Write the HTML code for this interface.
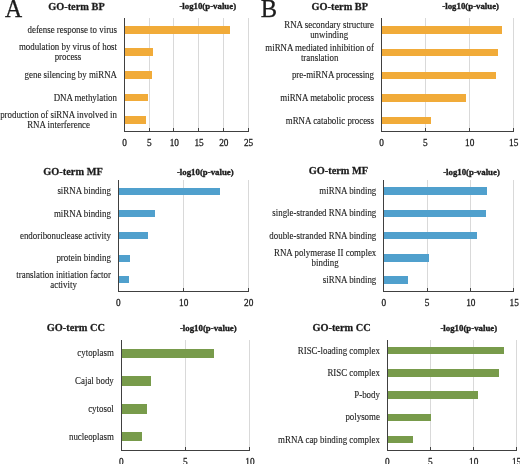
<!DOCTYPE html>
<html><head><meta charset="utf-8"><title>GO-term enrichment</title><style>
html,body{margin:0;padding:0;background:#fff;}
body{width:520px;height:464px;position:relative;overflow:hidden;will-change:transform;font-family:"Liberation Serif",serif;color:#1c1c1c;-webkit-text-stroke:0.1px #1c1c1c;}
div{position:absolute;}
.g{width:1px;background:#d9d9d9;}
.ay{width:1px;background:#404040;}
.ax{height:1px;background:#404040;}
.tk{width:1px;height:3px;background:#404040;}
.tl{width:30px;text-align:center;font-size:9.3px;line-height:1;-webkit-text-stroke:0.25px #1c1c1c;transform:translateY(0.5px) scale(1,1.06);transform-origin:50% 75%;}
.lb{height:60px;display:flex;flex-direction:column;justify-content:center;text-align:center;font-size:8.9px;line-height:9.6px;white-space:nowrap;transform:scaleY(1.05);}
.tt{font-weight:bold;font-size:10.35px;line-height:1;white-space:nowrap;-webkit-text-stroke:0.25px #1c1c1c;transform:scaleY(1.06);transform-origin:0 85%;}
.lg{font-weight:bold;font-size:8.8px;line-height:1;white-space:nowrap;-webkit-text-stroke:0.35px #1c1c1c;}
.big{font-size:24.5px;line-height:1;-webkit-text-stroke:0.3px #1c1c1c;}
</style></head><body>
<div class="big" style="left:4.75px;top:-2.9px;transform:scaleX(0.97);transform-origin:0 0;">A</div>
<div class="big" style="left:260.8px;top:-2.9px;">B</div>
<div class="g" style="left:148.72px;top:18.1px;height:112.8px"></div>
<div class="g" style="left:173.44px;top:18.1px;height:112.8px"></div>
<div class="g" style="left:198.16px;top:18.1px;height:112.8px"></div>
<div class="g" style="left:222.88px;top:18.1px;height:112.8px"></div>
<div class="g" style="left:247.6px;top:18.1px;height:112.8px"></div>
<div class="b" style="left:125px;top:26px;width:104.8px;height:7.5px;background:#f1ab39"></div>
<div class="b" style="left:125px;top:48.4px;width:27.8px;height:7.6px;background:#f1ab39"></div>
<div class="b" style="left:125px;top:70.9px;width:27px;height:7.7px;background:#f1ab39"></div>
<div class="b" style="left:125px;top:93.7px;width:22.8px;height:7.8px;background:#f1ab39"></div>
<div class="b" style="left:125px;top:116.1px;width:20.9px;height:7.7px;background:#f1ab39"></div>
<div class="ay" style="left:124px;top:18.1px;height:113.8px"></div>
<div class="ax" style="left:124px;top:130.9px;width:124.6px"></div>
<div class="tl" style="left:109.5px;top:138px">0</div>
<div class="tk" style="left:148.72px;top:127.9px"></div>
<div class="tl" style="left:134.22px;top:138px">5</div>
<div class="tk" style="left:173.44px;top:127.9px"></div>
<div class="tl" style="left:159.39px;top:138px">10</div>
<div class="tk" style="left:198.16px;top:127.9px"></div>
<div class="tl" style="left:184.11px;top:138px">15</div>
<div class="tk" style="left:222.88px;top:127.9px"></div>
<div class="tl" style="left:208.83px;top:138px">20</div>
<div class="tk" style="left:247.6px;top:127.9px"></div>
<div class="tl" style="left:233.55px;top:138px">25</div>
<div class="lb" style="right:403px;top:0.75px">defense response to virus</div>
<div class="lb" style="right:403px;top:23.2px">modulation by virus of host<br>process</div>
<div class="lb" style="right:403px;top:45.75px">gene silencing by miRNA</div>
<div class="lb" style="right:403px;top:68.6px">DNA methylation</div>
<div class="lb" style="right:403px;top:90.95px">production of siRNA involved in<br>RNA interference</div>
<div class="tt" style="left:48.13px;top:1.6px">GO-term BP</div>
<div class="lg" style="left:179.4px;top:2.46px">-log10(p-value)</div>
<div class="g" style="left:424.9px;top:18.3px;height:112.8px"></div>
<div class="g" style="left:468.8px;top:18.3px;height:112.8px"></div>
<div class="g" style="left:512.7px;top:18.3px;height:112.8px"></div>
<div class="b" style="left:382px;top:26.1px;width:120.3px;height:7.5px;background:#f1ab39"></div>
<div class="b" style="left:382px;top:48.8px;width:115.6px;height:7.4px;background:#f1ab39"></div>
<div class="b" style="left:382px;top:71.6px;width:114.2px;height:7.4px;background:#f1ab39"></div>
<div class="b" style="left:382px;top:94px;width:84px;height:7.5px;background:#f1ab39"></div>
<div class="b" style="left:382px;top:116.7px;width:48.6px;height:7.6px;background:#f1ab39"></div>
<div class="ay" style="left:381px;top:18.3px;height:113.8px"></div>
<div class="ax" style="left:381px;top:131.1px;width:132.7px"></div>
<div class="tl" style="left:366.5px;top:138px">0</div>
<div class="tk" style="left:424.9px;top:128.1px"></div>
<div class="tl" style="left:410.4px;top:138px">5</div>
<div class="tk" style="left:468.8px;top:128.1px"></div>
<div class="tl" style="left:454.75px;top:138px">10</div>
<div class="tk" style="left:512.7px;top:128.1px"></div>
<div class="tl" style="left:498.65px;top:138px">15</div>
<div class="lb" style="right:146px;top:0.85px">RNA secondary structure<br>unwinding</div>
<div class="lb" style="right:146px;top:23.5px">miRNA mediated inhibition of<br>translation</div>
<div class="lb" style="right:146px;top:46.3px">pre-miRNA processing</div>
<div class="lb" style="right:146px;top:68.75px">miRNA metabolic process</div>
<div class="lb" style="right:146px;top:91.5px">mRNA catabolic process</div>
<div class="tt" style="left:311.48px;top:1.6px">GO-term BP</div>
<div class="lg" style="left:442.35px;top:2.01px">-log10(p-value)</div>
<div class="g" style="left:182.8px;top:180.4px;height:110.3px"></div>
<div class="g" style="left:247.7px;top:180.4px;height:110.3px"></div>
<div class="b" style="left:118.9px;top:187.6px;width:101.1px;height:7.2px;background:#50a0cd"></div>
<div class="b" style="left:118.9px;top:210.2px;width:35.9px;height:7.1px;background:#50a0cd"></div>
<div class="b" style="left:118.9px;top:232.1px;width:29.2px;height:7.3px;background:#50a0cd"></div>
<div class="b" style="left:118.9px;top:254.5px;width:11.5px;height:7.1px;background:#50a0cd"></div>
<div class="b" style="left:118.9px;top:276.2px;width:10.3px;height:7.3px;background:#50a0cd"></div>
<div class="ay" style="left:117.9px;top:180.4px;height:111.3px"></div>
<div class="ax" style="left:117.9px;top:290.7px;width:130.8px"></div>
<div class="tl" style="left:103.4px;top:298px">0</div>
<div class="tk" style="left:182.8px;top:287.7px"></div>
<div class="tl" style="left:168.75px;top:298px">10</div>
<div class="tk" style="left:247.7px;top:287.7px"></div>
<div class="tl" style="left:233.65px;top:298px">20</div>
<div class="lb" style="right:409.1px;top:162.2px">siRNA binding</div>
<div class="lb" style="right:409.1px;top:184.75px">miRNA binding</div>
<div class="lb" style="right:409.1px;top:206.75px">endoribonuclease activity</div>
<div class="lb" style="right:409.1px;top:229.05px">protein binding</div>
<div class="lb" style="right:409.1px;top:250.85px">translation initiation factor<br>activity</div>
<div class="tt" style="left:43.28px;top:167.1px">GO-term MF</div>
<div class="lg" style="left:176.95px;top:167.61px">-log10(p-value)</div>
<div class="g" style="left:426.6px;top:180px;height:110.5px"></div>
<div class="g" style="left:469.9px;top:180px;height:110.5px"></div>
<div class="g" style="left:513.2px;top:180px;height:110.5px"></div>
<div class="b" style="left:384.3px;top:187.2px;width:103.2px;height:7.4px;background:#50a0cd"></div>
<div class="b" style="left:384.3px;top:209.8px;width:101.5px;height:7.2px;background:#50a0cd"></div>
<div class="b" style="left:384.3px;top:231.8px;width:92.6px;height:7.4px;background:#50a0cd"></div>
<div class="b" style="left:384.3px;top:254px;width:45.2px;height:7.7px;background:#50a0cd"></div>
<div class="b" style="left:384.3px;top:276.1px;width:23.5px;height:7.6px;background:#50a0cd"></div>
<div class="ay" style="left:383.3px;top:180px;height:111.5px"></div>
<div class="ax" style="left:383.3px;top:290.5px;width:130.9px"></div>
<div class="tl" style="left:368.8px;top:298px">0</div>
<div class="tk" style="left:426.6px;top:287.5px"></div>
<div class="tl" style="left:412.1px;top:298px">5</div>
<div class="tk" style="left:469.9px;top:287.5px"></div>
<div class="tl" style="left:455.85px;top:298px">10</div>
<div class="tk" style="left:513.2px;top:287.5px"></div>
<div class="tl" style="left:499.15px;top:298px">15</div>
<div class="lb" style="right:143.7px;top:161.9px">miRNA binding</div>
<div class="lb" style="right:143.7px;top:184.4px">single-stranded RNA binding</div>
<div class="lb" style="right:143.7px;top:206.5px">double-stranded RNA binding</div>
<div class="lb" style="right:143.7px;top:228.85px">RNA polymerase II complex<br>binding</div>
<div class="lb" style="right:143.7px;top:250.9px">siRNA binding</div>
<div class="tt" style="left:308.68px;top:166.4px">GO-term MF</div>
<div class="lg" style="left:443.15px;top:167.61px">-log10(p-value)</div>
<div class="g" style="left:184.9px;top:339.9px;height:109.9px"></div>
<div class="g" style="left:249px;top:339.9px;height:109.9px"></div>
<div class="b" style="left:121.8px;top:349px;width:92.4px;height:8.7px;background:#789b4b"></div>
<div class="b" style="left:121.8px;top:376.4px;width:29.5px;height:9.4px;background:#789b4b"></div>
<div class="b" style="left:121.8px;top:404.1px;width:25.1px;height:9.5px;background:#789b4b"></div>
<div class="b" style="left:121.8px;top:432px;width:20.2px;height:9.4px;background:#789b4b"></div>
<div class="ay" style="left:120.8px;top:339.9px;height:110.9px"></div>
<div class="ax" style="left:120.8px;top:449.8px;width:129.2px"></div>
<div class="tl" style="left:106.3px;top:457px">0</div>
<div class="tk" style="left:184.9px;top:446.8px"></div>
<div class="tl" style="left:170.4px;top:457px">5</div>
<div class="tk" style="left:249px;top:446.8px"></div>
<div class="tl" style="left:234.95px;top:457px">10</div>
<div class="lb" style="right:406.2px;top:324.35px">cytoplasm</div>
<div class="lb" style="right:406.2px;top:352.1px">Cajal body</div>
<div class="lb" style="right:406.2px;top:379.85px">cytosol</div>
<div class="lb" style="right:406.2px;top:407.7px">nucleoplasm</div>
<div class="tt" style="left:46.68px;top:323.4px">GO-term CC</div>
<div class="lg" style="left:179.95px;top:323.81px">-log10(p-value)</div>
<div class="g" style="left:429.8px;top:340.1px;height:109.8px"></div>
<div class="g" style="left:472.7px;top:340.1px;height:109.8px"></div>
<div class="g" style="left:515.6px;top:340.1px;height:109.8px"></div>
<div class="b" style="left:387.9px;top:347.1px;width:116px;height:7.4px;background:#789b4b"></div>
<div class="b" style="left:387.9px;top:369.2px;width:110.7px;height:7.4px;background:#789b4b"></div>
<div class="b" style="left:387.9px;top:391.3px;width:90.3px;height:7.4px;background:#789b4b"></div>
<div class="b" style="left:387.9px;top:413.6px;width:42.9px;height:7.5px;background:#789b4b"></div>
<div class="b" style="left:387.9px;top:435.9px;width:24.7px;height:7.2px;background:#789b4b"></div>
<div class="ay" style="left:386.9px;top:340.1px;height:110.8px"></div>
<div class="ax" style="left:386.9px;top:449.9px;width:129.7px"></div>
<div class="tl" style="left:372.4px;top:457px">0</div>
<div class="tk" style="left:429.8px;top:446.9px"></div>
<div class="tl" style="left:415.3px;top:457px">5</div>
<div class="tk" style="left:472.7px;top:446.9px"></div>
<div class="tl" style="left:458.65px;top:457px">10</div>
<div class="tk" style="left:515.6px;top:446.9px"></div>
<div class="tl" style="left:501.55px;top:457px">15</div>
<div class="lb" style="right:140.1px;top:321.8px">RISC-loading complex</div>
<div class="lb" style="right:140.1px;top:343.9px">RISC complex</div>
<div class="lb" style="right:140.1px;top:366px">P-body</div>
<div class="lb" style="right:140.1px;top:388.35px">polysome</div>
<div class="lb" style="right:140.1px;top:410.5px">mRNA cap binding complex</div>
<div class="tt" style="left:312.38px;top:323.4px">GO-term CC</div>
<div class="lg" style="left:440.45px;top:323.81px">-log10(p-value)</div>
</body></html>
